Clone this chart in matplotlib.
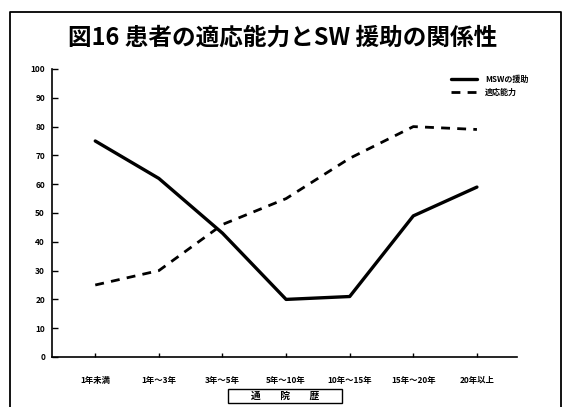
import matplotlib
matplotlib.use("Agg")
import matplotlib.pyplot as plt
from matplotlib.lines import Line2D
from matplotlib.patches import Rectangle

plt.rcParams['font.family'] = ['Noto Sans CJK JP', 'DejaVu Sans']

categories = ["1年未満", "1年〜3年", "3年〜5年", "5年〜10年", "10年〜15年", "15年〜20年", "20年以上"]
msw_support = [75, 62, 43, 20, 21, 49, 59]
adaptability = [25, 30, 46, 55, 69, 80, 79]
yticks = [0, 10, 20, 30, 40, 50, 60, 70, 80, 90, 100]
title = "図16 患者の適応能力とSW 援助の関係性"
xlabel = "通　　院　　歴"
legend_labels = ["MSWの援助", "適応能力"]

W, H = 567, 407
fig = plt.figure(figsize=(W / 100, H / 100), dpi=100)
fig.patch.set_facecolor("white")

ax = fig.add_axes([52 / W, (H - 357) / H, (517 - 52) / W, (357 - 69) / H])
x = list(range(len(categories)))
l1, = ax.plot(x, msw_support, color="black", lw=2.4, solid_capstyle="round",
              solid_joinstyle="round")
l2, = ax.plot(x, adaptability, color="black", lw=2.0, linestyle=(0, (3.2, 2.6)))

ax.set_xlim(-0.68, 6.63)
ax.set_ylim(0, 100)
ax.set_yticks(yticks)
ax.set_yticklabels([str(v) for v in yticks], fontsize=6, fontweight="bold")
ax.set_xticks(x)
ax.set_xticklabels(categories, fontsize=6, fontweight="bold")
ax.tick_params(axis="y", direction="in", length=4, width=1, pad=5)
ax.tick_params(axis="x", direction="in", length=3, width=1, pad=14)
for s in ["top", "right"]:
    ax.spines[s].set_visible(False)
ax.spines["left"].set_linewidth(1.2)
ax.spines["bottom"].set_linewidth(1.2)

leg = fig.legend([l1, l2], legend_labels, loc="upper left",
                 bbox_to_anchor=(444 / W, 1 - 68 / H), frameon=False,
                 handlelength=3.2, handletextpad=1.0,
                 labelspacing=0.5, prop={"weight": "bold", "size": 5.8})

fig.text(283 / W, 1 - 38 / H, title, ha="center", va="center",
         fontsize=17, fontweight="bold")

# x-axis title in a box
fig.text(285 / W, 1 - 396 / H, xlabel, ha="center", va="center",
         fontsize=7, fontweight="bold")
fig.add_artist(Rectangle((228 / W, 1 - 403 / H), (342 - 228) / W, 14 / H,
                         transform=fig.transFigure, fill=False,
                         edgecolor="black", lw=1.0))

# outer frame (left, top, right)
fig.add_artist(Line2D([10 / W, 10 / W, 561 / W, 561 / W],
                      [0, 1 - 12 / H, 1 - 12 / H, 0],
                      transform=fig.transFigure, color="black", lw=1.3))

fig.savefig("out.png", dpi=100)
